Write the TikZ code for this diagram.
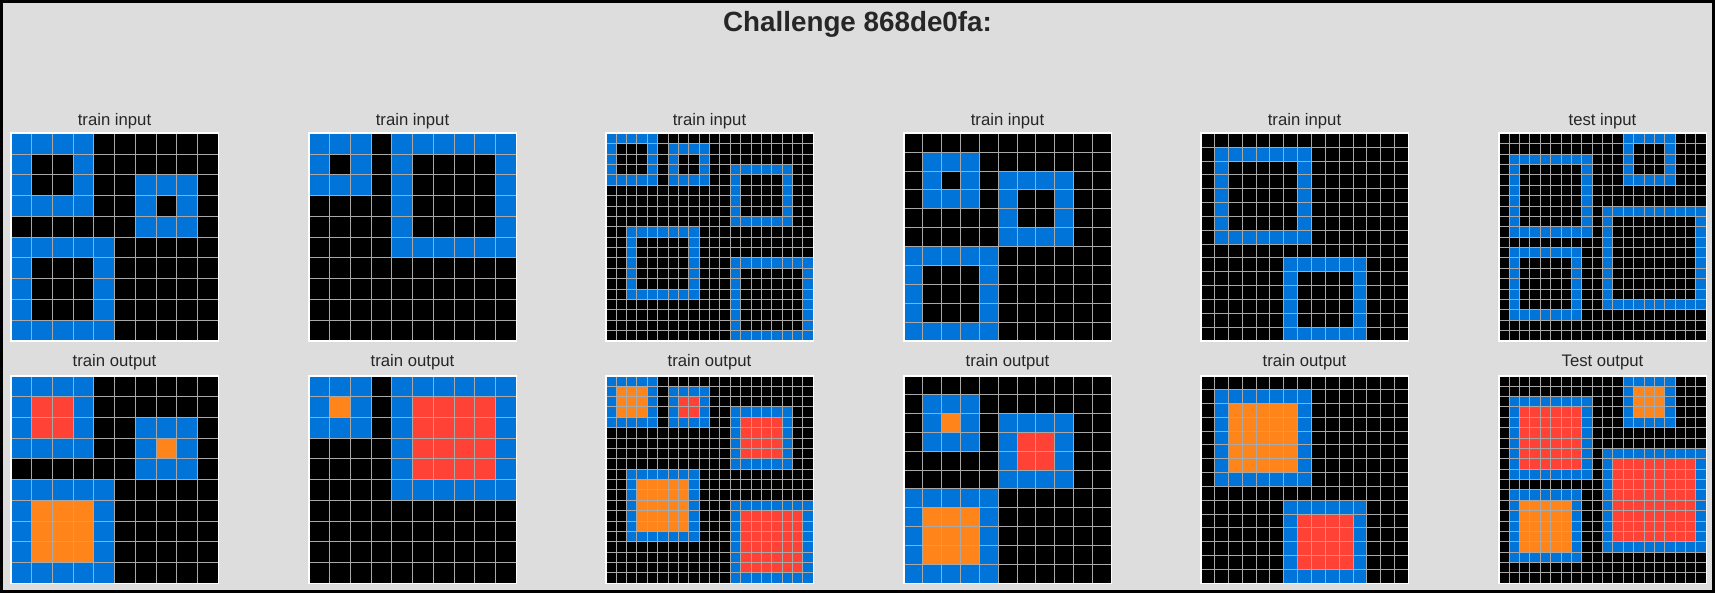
\documentclass[tikz,border=0pt]{standalone}
\usepackage{fontspec}
\setmainfont{Liberation Sans}
\definecolor{cblue}{HTML}{0074D9}
\definecolor{cred}{HTML}{FF4136}
\definecolor{corange}{HTML}{FF851B}
\definecolor{bggray}{HTML}{DDDDDD}
\definecolor{glines}{HTML}{A8A8A8}
\tikzset{
  gridline/.style={draw=glines, line width=0.9pt},
  gridframe/.style={draw=white, line width=1.6pt},
  lbl/.style={font=\fontsize{16.7}{20}\selectfont, text=black!85, inner sep=0pt},
  ttl/.style={font=\fontsize{27.8}{32}\selectfont\bfseries, text=black!85, inner sep=0pt}
}
% #1 x0, #2 y0, #3 n, #4 cell size, #5 box list, #6 0=input 1=output
\newcommand\arcgrid[6]{%
  \begin{scope}[shift={(#1pt,-#2pt)}, x=#4pt, y=-#4pt]
    \fill[black] (0,0) rectangle (#3,#3);
    \foreach \ra/\ca/\rb/\cb/\cl in {#5} {
      \fill[cblue] (\ca,\ra) rectangle ({\cb+1},{\rb+1});
      \ifnum#6=0
        \fill[black] ({\ca+1},{\ra+1}) rectangle (\cb,\rb);
      \else
        \fill[\cl] ({\ca+1},{\ra+1}) rectangle (\cb,\rb);
      \fi
    }
    \foreach \i in {1,...,#3} {
      \draw[gridline] (\i,0) -- (\i,#3);
      \draw[gridline] (0,\i) -- (#3,\i);
    }
    \draw[gridframe] (0,0) rectangle (#3,#3);
  \end{scope}%
}
\begin{document}
\begin{tikzpicture}[x=1pt, y=-1pt]
\useasboundingbox (0,0) rectangle (1715,593);
\fill[bggray] (0,0) rectangle (1715,593);
\draw[black, line width=3pt] (1.5,1.5) rectangle (1713.5,591.5);
\node[ttl] (title) at (857.5,24) {Challenge 868de0fa:};
% column 1
\arcgrid{10.7}{133.3}{10}{20.76}{0/0/3/3/cred, 2/6/4/8/corange, 5/0/9/4/corange}{0}
\arcgrid{10.7}{375.7}{10}{20.76}{0/0/3/3/cred, 2/6/4/8/corange, 5/0/9/4/corange}{1}
% column 2
\arcgrid{308.7}{133.3}{10}{20.76}{0/0/2/2/corange, 0/4/5/9/cred}{0}
\arcgrid{308.7}{375.7}{10}{20.76}{0/0/2/2/corange, 0/4/5/9/cred}{1}
% column 3
\arcgrid{605.7}{133.3}{20}{10.38}{0/0/4/4/corange, 1/6/4/9/cred, 3/12/8/17/cred, 9/2/15/8/corange, 12/12/19/19/cred}{0}
\arcgrid{605.7}{375.7}{20}{10.38}{0/0/4/4/corange, 1/6/4/9/cred, 3/12/8/17/cred, 9/2/15/8/corange, 12/12/19/19/cred}{1}
% column 4
\arcgrid{903.7}{133.3}{11}{18.873}{1/1/3/3/corange, 2/5/5/8/cred, 6/0/10/4/corange}{0}
\arcgrid{903.7}{375.7}{11}{18.873}{1/1/3/3/corange, 2/5/5/8/cred, 6/0/10/4/corange}{1}
% column 5
\arcgrid{1200.7}{133.3}{15}{13.84}{1/1/7/7/corange, 9/6/14/11/cred}{0}
\arcgrid{1200.7}{375.7}{15}{13.84}{1/1/7/7/corange, 9/6/14/11/cred}{1}
% column 6
\arcgrid{1498.7}{133.3}{20}{10.38}{0/12/4/16/corange, 2/1/9/8/cred, 7/10/16/19/cred, 11/1/17/7/corange}{0}
\arcgrid{1498.7}{375.7}{20}{10.38}{0/12/4/16/corange, 2/1/9/8/cred, 7/10/16/19/cred, 11/1/17/7/corange}{1}
% labels
\node[lbl] (in1) at (114.5,121) {train input};
\node[lbl] (in2) at (412.5,121) {train input};
\node[lbl] (in3) at (709.5,121) {train input};
\node[lbl] (in4) at (1007.5,121) {train input};
\node[lbl] (in5) at (1304.5,121) {train input};
\node[lbl] (in6) at (1602.5,121) {test input};
\node[lbl] (out1) at (114.5,362) {train output};
\node[lbl] (out2) at (412.5,362) {train output};
\node[lbl] (out3) at (709.5,362) {train output};
\node[lbl] (out4) at (1007.5,362) {train output};
\node[lbl] (out5) at (1304.5,362) {train output};
\node[lbl] (out6) at (1602.5,362) {Test output};
\end{tikzpicture}
\end{document}
